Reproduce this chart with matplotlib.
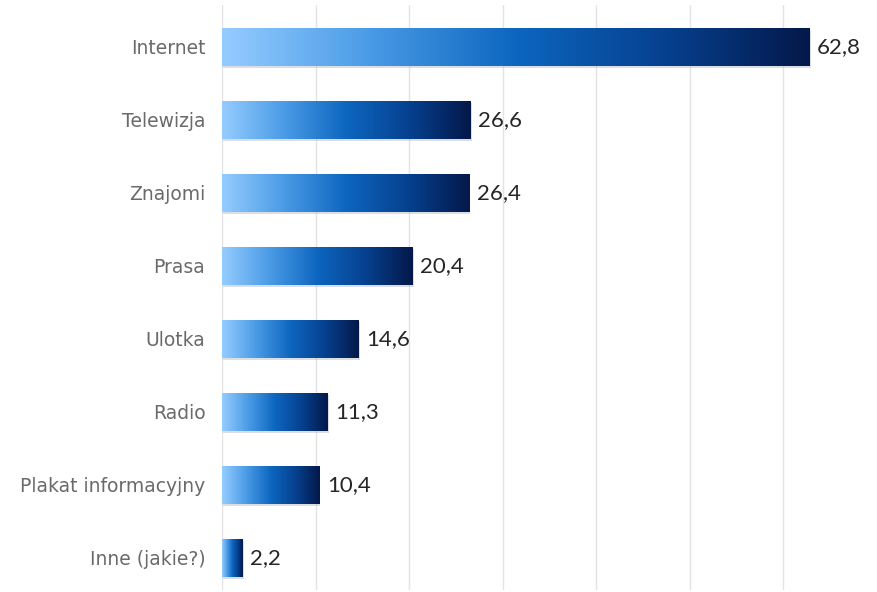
import numpy as np
import matplotlib
matplotlib.use("Agg")
import matplotlib.pyplot as plt
from matplotlib.colors import LinearSegmentedColormap
from matplotlib.patches import Rectangle

# data
categories = ["Internet", "Telewizja", "Znajomi", "Prasa", "Ulotka", "Radio",
              "Plakat informacyjny", "Inne (jakie?)"]
values = [62.8, 26.6, 26.4, 20.4, 14.6, 11.3, 10.4, 2.2]
value_labels = ["62,8", "26,6", "26,4", "20,4", "14,6", "11,3", "10,4", "2,2"]

plt.rcParams['font.family'] = ['Lato', 'DejaVu Sans']

cmap = LinearSegmentedColormap.from_list(
    "bars", [(0.0, "#95ccff"), (0.25, "#4a9be6"), (0.5, "#0d66bf"),
             (0.75, "#064190"), (1.0, "#04184a")])

fig = plt.figure(figsize=(8.77, 5.92), dpi=100)
ax = fig.add_axes([222 / 877, 2 / 592, 1 - 222 / 877, 585 / 592])

bar_h = 0.52
grad = np.linspace(0, 1, 256).reshape(1, -1)
for i, (v, lab) in enumerate(zip(values, value_labels)):
    # soft shadow under each bar
    ax.add_patch(Rectangle((0.1, i - bar_h / 2 + 0.03), v, bar_h,
                           facecolor="#9aa6b4", alpha=0.35, edgecolor="none",
                           zorder=2))
    ax.imshow(grad, cmap=cmap, aspect="auto", interpolation="bicubic",
              extent=[0, v, i + bar_h / 2, i - bar_h / 2], zorder=3)
    ax.text(v + 0.8, i, lab, va="center", ha="left", fontsize=16,
            color="#262626", zorder=4)

ax.set_xlim(0, 70)
ax.set_ylim(7.44, -0.575)
ax.set_xticks(np.arange(0, 70, 10))
ax.set_yticks(range(len(categories)))
ax.set_yticklabels(categories, fontsize=13.5, color="#6a6a6a",
                   family=["DejaVu Sans"])
ax.tick_params(axis="y", length=0, pad=12)
ax.tick_params(axis="x", length=0, labelbottom=False)
ax.grid(axis="x", color="#e3e3e3", linewidth=1, zorder=0)
ax.set_axisbelow(True)
for s in ax.spines.values():
    s.set_visible(False)

fig.savefig("out.png", dpi=100, facecolor="white")
